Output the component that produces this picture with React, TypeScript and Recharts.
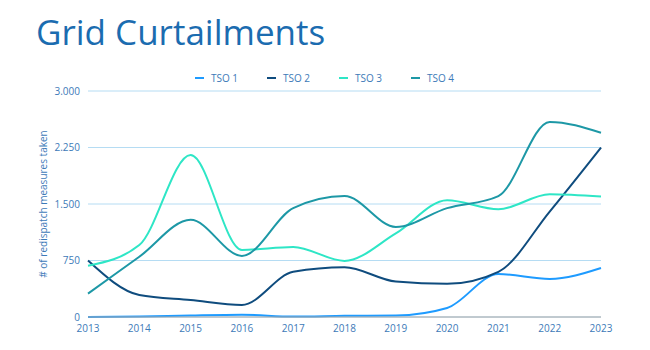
import React from "react";
import { LineChart, Line, XAxis, YAxis, CartesianGrid } from "recharts";

const years = ["2013", "2014", "2015", "2016", "2017", "2018", "2019", "2020", "2021", "2022", "2023"];
const tso1 = [0, 5, 20, 30, 5, 15, 20, 120, 570, 505, 650];
const tso2 = [750, 292, 225, 160, 600, 660, 470, 440, 600, 1400, 2250];
const tso3 = [680, 955, 2150, 890, 930, 745, 1110, 1550, 1430, 1630, 1600];
const tso4 = [310, 800, 1290, 810, 1445, 1605, 1195, 1445, 1605, 2590, 2445];
const yTicks = [0, 750, 1500, 2250, 3000];

const series = [
  { key: "tso1", name: "TSO 1", color: "#1e9bff", values: tso1 },
  { key: "tso2", name: "TSO 2", color: "#0f4c7e", values: tso2 },
  { key: "tso3", name: "TSO 3", color: "#2ee6c6", values: tso3 },
  { key: "tso4", name: "TSO 4", color: "#1d98a6", values: tso4 },
];

const data = years.map((year, i) => {
  const row: Record<string, string | number> = { year };
  series.forEach((s) => {
    row[s.key] = s.values[i];
  });
  return row;
});

const font = "'Open Sans', sans-serif";
const textBlue = "#3d7ab8";

const fmt = (v: number) => v.toString().replace(/\B(?=(\d{3})+(?!\d))/g, ".");

export default function App() {
  return (
    <div style={{ position: "absolute", left: 0, top: 0, width: 650, height: 350, background: "#fff", fontFamily: font }}>
      <div style={{ position: "absolute", left: 36, top: 8, fontSize: 35, color: "#1b6cb0", whiteSpace: "nowrap" }}>
        Grid Curtailments
      </div>
      {series.map((s, i) => (
        <div
          key={s.key}
          style={{ position: "absolute", left: 195 + i * 72, top: 71, display: "flex", alignItems: "center", fontSize: 10, color: textBlue }}
        >
          <span style={{ display: "inline-block", width: 9, height: 2, background: s.color, marginRight: 7 }} />
          {s.name}
        </div>
      ))}
      <div
        style={{
          position: "absolute",
          left: 43,
          top: 204,
          transform: "translate(-50%, -50%) rotate(-90deg)",
          fontSize: 10,
          color: textBlue,
          whiteSpace: "nowrap",
        }}
      >
        # of redispatch measures taken
      </div>
      <LineChart width={650} height={350} data={data} margin={{ top: 91, right: 49, bottom: 8, left: 38 }}>
        <CartesianGrid vertical={false} stroke="#b5dcf3" />
        <XAxis
          dataKey="year"
          tickSize={0}
          tickMargin={8}
          height={25}
          axisLine={{ stroke: "#a6a6a6" }}
          tick={{ fontSize: 10, fill: textBlue, fontFamily: font }}
        />
        <YAxis
          domain={[0, 3000]}
          ticks={yTicks}
          tickFormatter={fmt}
          width={50}
          tickSize={0}
          tickMargin={8}
          axisLine={false}
          tick={{ fontSize: 10, fill: textBlue, fontFamily: font }}
        />
        {series.map((s) => (
          <Line
            key={s.key}
            type="monotone"
            dataKey={s.key}
            name={s.name}
            stroke={s.color}
            strokeWidth={2}
            dot={false}
            isAnimationActive={false}
          />
        ))}
      </LineChart>
    </div>
  );
}
